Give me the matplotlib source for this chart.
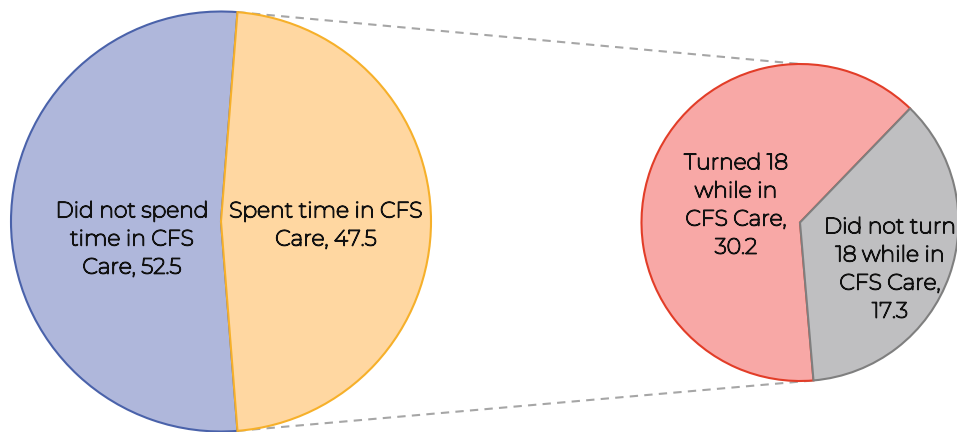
import numpy as np
import matplotlib.pyplot as plt
import matplotlib.patheffects as pe

plt.rcParams['font.family'] = ['Montserrat', 'DejaVu Sans']

# data
main_labels = ["Did not spend\ntime in CFS\nCare, 52.5", "Spent time in CFS\nCare, 47.5"]
main_vals = [52.5, 47.5]
sub_labels = ["Turned 18\nwhile in\nCFS Care,\n30.2", "Did not turn\n18 while in\nCFS Care,\n17.3"]
sub_vals = [30.2, 17.3]

main_colors = ["#AFB7DB", "#FFD7A1"]
main_edges = ["#4A62AA", "#F6B02A"]
sub_colors = ["#F8A8A6", "#BFBFC1"]
sub_edges = ["#E23D28", "#7F7F7F"]

W, H = 957, 432
fig = plt.figure(figsize=(W / 100, H / 100), dpi=100)
ax = fig.add_axes([0, 0, 1, 1])

c1, r1 = (221, 210.5), 210
c2, r2 = (800, 209.5), 158.5

# left pie: orange slice symmetric about horizontal axis
orange_span = 360 * main_vals[1] / sum(main_vals)
w1, _ = ax.pie(main_vals, center=c1, radius=r1, colors=main_colors,
               startangle=orange_span / 2, counterclock=True,
               wedgeprops=dict(linewidth=1.5), frame=True)
for w, e in zip(w1, main_edges):
    w.set_edgecolor(e)

# right pie
w2, _ = ax.pie(sub_vals, center=c2, radius=r2, colors=sub_colors,
               startangle=46, counterclock=True,
               wedgeprops=dict(linewidth=1.5), frame=True)
for w, e in zip(w2, sub_edges):
    w.set_edgecolor(e)
ax.set_xlim(0, W)
ax.set_ylim(0, H)
ax.set_aspect('equal')
ax.axis('off')

# connector lines
o = w1[1]
def pt(c, r, ang):
    return c[0] + r * np.cos(np.radians(ang)), c[1] + r * np.sin(np.radians(ang))
top_l = pt(c1, r1, o.theta2)
bot_l = pt(c1, r1, o.theta1)
top_r = (c2[0], c2[1] + r2)
bot_r = pt(c2, r2, w2[0].theta2)
ax.plot([top_l[0], top_r[0]], [top_l[1], top_r[1]], ls=(0, (4, 3)), color="#A6A6A6", lw=1.5, zorder=0)
ax.plot([bot_l[0], bot_r[0]], [bot_l[1], bot_r[1]], ls=(0, (4, 3)), color="#A6A6A6", lw=1.5, zorder=0)

# the Montserrat installed is the thin variable instance, so thicken it with a stroke
bold = [pe.withStroke(linewidth=1.0, foreground='#111111')]
kw = dict(ha='center', va='center', fontsize=15.8, color='#111111', linespacing=1.42,
          path_effects=bold)
ax.text(132, 432 - 239, main_labels[0], **kw)
ax.text(326, 432 - 225, main_labels[1], **kw)
ax.text(736, 432 - 205, sub_labels[0], **kw)
ax.text(890, 432 - 269, sub_labels[1], clip_on=False, **kw)

fig.savefig("out.png", dpi=100)
